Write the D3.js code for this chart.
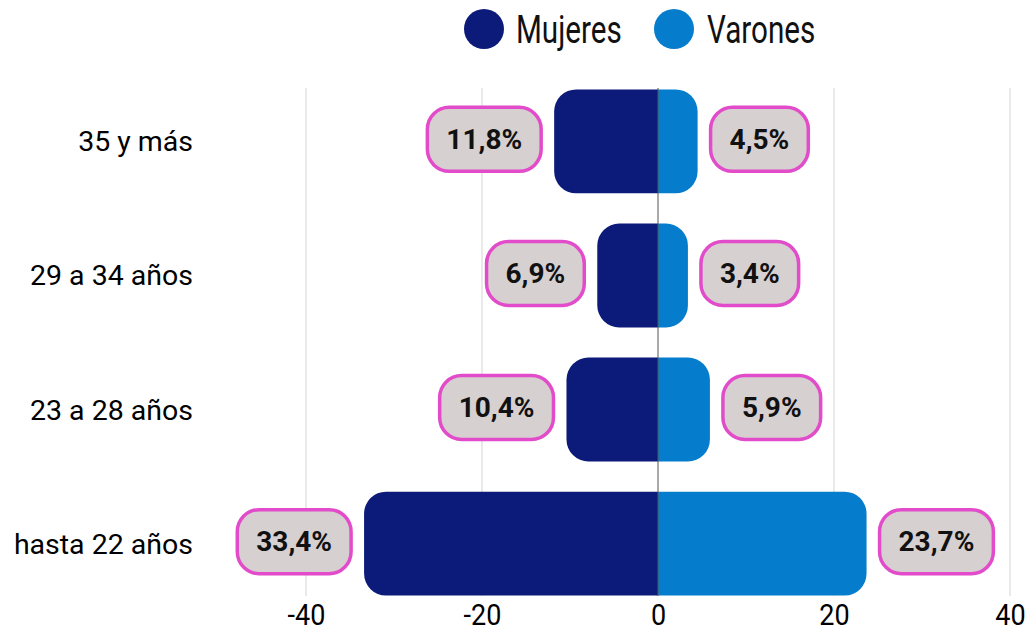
<!DOCTYPE html>
<html>
<head>
<meta charset="utf-8">
<script src="https://cdn.jsdelivr.net/npm/d3@7"></script>
<style>
  body { margin: 0; background: #fff; }
  svg { display: block; }
</style>
</head>
<body>
<svg id="grafico"></svg>
<script>
// Datos
var categorias = ["35 y más", "29 a 34 años", "23 a 28 años", "hasta 22 años"];
var mujeres = [11.8, 6.9, 10.4, 33.4];
var varones = [4.5, 3.4, 5.9, 23.7];
var ticks = [-40, -20, 0, 20, 40];
var series = ["Mujeres", "Varones"];
var colores = ["#0c1b79", "#067dcc"];

var width = 1034;
var height = 633;

var svg = d3.select("#grafico").attr("width", width).attr("height", height);

var x = d3.scaleLinear().domain([-40, 40]).range([306, 1010]);
var y = d3.scaleBand().domain(categorias).range([76, 609]).paddingInner(0.225).paddingOuter(0.1);

// Rejilla
svg.selectAll(".grid")
  .data(ticks.filter(d => d !== 0))
  .enter().append("line")
  .attr("x1", d => x(d)).attr("x2", d => x(d))
  .attr("y1", 88).attr("y2", 596)
  .attr("stroke", "#d4d4d4").attr("stroke-width", 1);

// Eje x (fuente estrecha)
var ejeX = svg.append("g")
  .attr("transform", "translate(0,596)")
  .call(d3.axisBottom(x).tickValues(ticks).tickSize(0).tickPadding(7).tickFormat(d => String(d)));
ejeX.select(".domain").remove();
ejeX.selectAll("text")
  .attr("font-family", "Roboto, sans-serif")
  .attr("font-size", 30)
  .attr("fill", "#000")
  .attr("dy", "0.75em")
  .attr("transform", "scale(0.9,1)");

// Barra con esquinas redondeadas solo en el extremo exterior
function barra(x0, x1, y0, h, r, izquierda) {
  var p = d3.path();
  if (izquierda) {
    p.moveTo(x1, y0);
    p.lineTo(x0 + r, y0);
    p.arcTo(x0, y0, x0, y0 + r, r);
    p.lineTo(x0, y0 + h - r);
    p.arcTo(x0, y0 + h, x0 + r, y0 + h, r);
    p.lineTo(x1, y0 + h);
  } else {
    p.moveTo(x0, y0);
    p.lineTo(x1 - r, y0);
    p.arcTo(x1, y0, x1, y0 + r, r);
    p.lineTo(x1, y0 + h - r);
    p.arcTo(x1, y0 + h, x1 - r, y0 + h, r);
    p.lineTo(x0, y0 + h);
  }
  p.closePath();
  return p.toString();
}

var filas = categorias.map((c, i) => ({ cat: c, m: mujeres[i], v: varones[i] }));

svg.selectAll(".mujer")
  .data(filas).enter().append("path")
  .attr("d", d => barra(x(-d.m), x(0), y(d.cat), y.bandwidth(), 22, true))
  .attr("fill", colores[0]);

svg.selectAll(".varon")
  .data(filas).enter().append("path")
  .attr("d", d => barra(x(0), x(d.v), y(d.cat), y.bandwidth(), 22, false))
  .attr("fill", colores[1]);

// Linea del cero
svg.append("line")
  .attr("x1", x(0)).attr("x2", x(0))
  .attr("y1", 88).attr("y2", 596)
  .attr("stroke", "#555").attr("stroke-width", 1);

// Etiquetas de categorias
svg.selectAll(".cat")
  .data(categorias).enter().append("text")
  .attr("x", 193)
  .attr("y", d => y(d) + y.bandwidth() / 2)
  .attr("dy", "0.35em")
  .attr("text-anchor", "end")
  .attr("font-family", "Roboto, sans-serif")
  .attr("font-size", 28.5)
  .attr("fill", "#000")
  .text(d => d);

// Etiquetas de valores
function fmt(v) { return v.toFixed(1).replace(".", ",") + "%"; }

function etiqueta(d, valor, izquierda) {
  var g = svg.append("g");
  var cy = y(d.cat) + y.bandwidth() / 2;
  var t = g.append("text")
    .attr("font-family", "Roboto, sans-serif")
    .attr("font-weight", "bold")
    .attr("font-size", 28)
    .attr("fill", "#111")
    .attr("text-anchor", "middle")
    .attr("dy", "0.35em")
    .text(fmt(valor));
  var w = t.node().getComputedTextLength() + 38;
  var h = 64;
  var borde = izquierda ? x(-valor) - 13 : x(valor) + 13;
  var cx = izquierda ? borde - w / 2 : borde + w / 2;
  g.insert("rect", "text")
    .attr("x", cx - w / 2).attr("y", cy - h / 2 - 2)
    .attr("width", w).attr("height", h)
    .attr("rx", 22)
    .attr("fill", "#d6d0d0")
    .attr("stroke", "#e24bc9")
    .attr("stroke-width", 3.5);
  t.attr("x", cx).attr("y", cy - 2);
}

filas.forEach(d => {
  etiqueta(d, d.m, true);
  etiqueta(d, d.v, false);
});

// Leyenda
var leyenda = [
  { nombre: series[0], color: colores[0], cx: 484, tx: 516 },
  { nombre: series[1], color: colores[1], cx: 674, tx: 707 }
];
var ley = svg.selectAll(".ley").data(leyenda).enter().append("g");
ley.append("circle")
  .attr("cx", d => d.cx).attr("cy", 29).attr("r", 20)
  .attr("fill", d => d.color);
ley.append("text")
  .attr("transform", d => "translate(" + d.tx + ",30) scale(0.78,1)")
  .attr("dy", "0.35em")
  .attr("font-family", "Roboto, sans-serif")
  .attr("font-size", 38)
  .attr("fill", "#111")
  .text(d => d.nombre);
</script>
</body>
</html>
